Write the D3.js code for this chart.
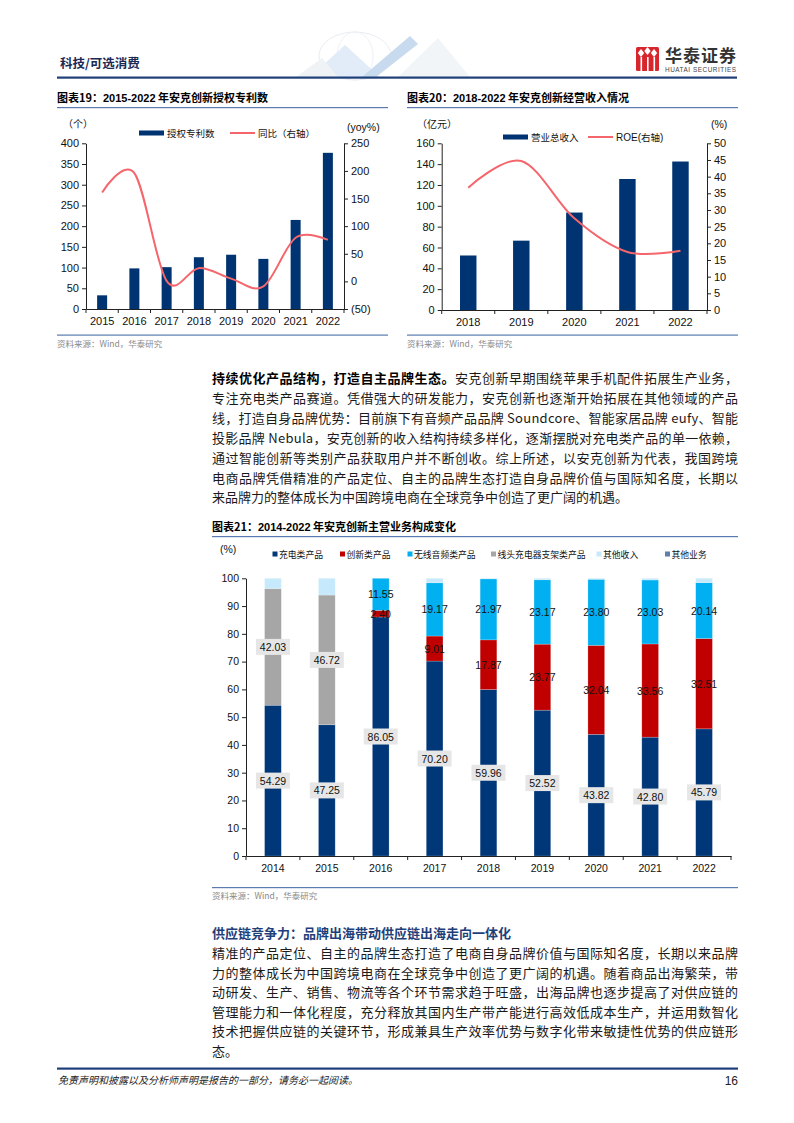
<!DOCTYPE html>
<html><head><meta charset="utf-8">
<script src="https://cdn.jsdelivr.net/npm/d3@7"></script>
<style>
body{margin:0;background:#fff;}
svg{display:block;}
text{font-family:"Liberation Sans",Arial,"Noto Sans CJK SC",sans-serif;}
.cn{font-family:"Noto Sans CJK SC",sans-serif;}
</style></head><body>
<svg id="page" width="794" height="1123"></svg>
<script>
// ---------- data ----------
const patentYears = ["2015","2016","2017","2018","2019","2020","2021","2022"];
const patentCounts = [33, 98, 101, 125, 131, 121, 215, 377];
const patentYoY = [161, 196, 1, 24, 5, -9, 79, 75];
const patentLeftTicks = [0,50,100,150,200,250,300,350,400];
const patentRightTicks = [-50,0,50,100,150,200,250];

const revYears = ["2018","2019","2020","2021","2022"];
const revenue = [52.32, 66.55, 93.53, 125.74, 142.51];
const roe = [36.7, 44.7, 27.5, 17.4, 17.8];
const revLeftTicks = [0,20,40,60,80,100,120,140,160];
const revRightTicks = [0,5,10,15,20,25,30,35,40,45,50];

const mixYears = ["2014","2015","2016","2017","2018","2019","2020","2021","2022"];
const mixSeriesNames = ["充电类产品","创新类产品","无线音频类产品","线头充电器支架类产品","其他收入","其他业务"];
const charging = [54.29, 47.25, 86.05, 70.20, 59.96, 52.52, 43.82, 42.80, 45.79];
const innovation = [0, 0, 2.40, 9.01, 17.87, 23.77, 32.04, 33.56, 32.51];
const audio = [0, 0, 11.55, 19.17, 21.97, 23.17, 23.80, 23.03, 20.14];
const cable = [42.03, 46.72, 0, 0, 0, 0, 0, 0, 0];
const otherIncome = [3.68, 6.03, 0, 1.62, 0.20, 0.54, 0.34, 0.61, 1.56];
const otherBusiness = [0, 0, 0, 0, 0, 0, 0, 0, 0];
const mixTicks = [0,10,20,30,40,50,60,70,80,90,100];

const para1 = [
  {bold:"持续优化产品结构，打造自主品牌生态。", text:"安克创新早期围绕苹果手机配件拓展生产业务，"},
  {text:"专注充电类产品赛道。凭借强大的研发能力，安克创新也逐渐开始拓展在其他领域的产品"},
  {text:"线，打造自身品牌优势：目前旗下有音频产品品牌 Soundcore、智能家居品牌 eufy、智能"},
  {text:"投影品牌 Nebula，安克创新的收入结构持续多样化，逐渐摆脱对充电类产品的单一依赖，"},
  {text:"通过智能创新等类别产品获取用户并不断创收。综上所述，以安克创新为代表，我国跨境"},
  {text:"电商品牌凭借精准的产品定位、自主的品牌生态打造自身品牌价值与国际知名度，长期以"},
  {text:"来品牌力的整体成长为中国跨境电商在全球竞争中创造了更广阔的机遇。", last:true}
];
const para2Title = "供应链竞争力：品牌出海带动供应链出海走向一体化";
const para2 = [
  "精准的产品定位、自主的品牌生态打造了电商自身品牌价值与国际知名度，长期以来品牌",
  "力的整体成长为中国跨境电商在全球竞争中创造了更广阔的机遇。随着商品出海繁荣，带",
  "动研发、生产、销售、物流等各个环节需求趋于旺盛，出海品牌也逐步提高了对供应链的",
  "管理能力和一体化程度，充分释放其国内生产带产能进行高效低成本生产，并运用数智化",
  "技术把握供应链的关键环节，形成兼具生产效率优势与数字化带来敏捷性优势的供应链形",
  "态。"
];

// ---------- page ----------
const svg = d3.select("#page");
const NAVY = "#1f3f7a";
const BAR = "#003371";
const LINE = "#f4666c";

// header decorative faint graphic
const deco = svg.append("g").attr("opacity",0.3);
deco.append("ellipse").attr("cx",355).attr("cy",56).attr("rx",36).attr("ry",24).attr("fill","none").attr("stroke","#b8c4d6").attr("stroke-width",1);
deco.append("ellipse").attr("cx",355).attr("cy",56).attr("rx",18).attr("ry",24).attr("fill","none").attr("stroke","#c8d2e0").attr("stroke-width",1);
deco.append("path").attr("d","M310,77 L345,45 L380,77 Z").attr("fill","#9ec3ea");
deco.append("path").attr("d","M362,77 L410,36 L418,44 L376,77 Z").attr("fill","#4a86c8");
deco.append("path").attr("d","M398,77 L438,38 L470,77 Z").attr("fill","#d7dfea");
deco.append("path").attr("d","M296,77 L322,58 L338,77 Z").attr("fill","#d0d8e4");

svg.append("text").attr("class","cn").attr("x",60).attr("y",68).attr("font-size",12.5).attr("font-weight","bold").attr("fill","#1b2a55").text("科技/可选消费");
svg.append("rect").attr("x",57).attr("y",76.5).attr("width",680).attr("height",2.2).attr("fill",NAVY);

// logo
const logo = svg.append("g");
logo.append("rect").attr("x",636).attr("y",47).attr("width",23).attr("height",24).attr("rx",1.5).attr("fill","#d7262c");
[[641,52],[647.5,50],[654,52]].forEach(([cx,cy])=>{
  logo.append("path").attr("d",`M${cx},${cy-3} L${cx+3.2},${cy+1} L${cx},${cy+5} L${cx-3.2},${cy+1} Z`).attr("fill","#fff");
});
[640.5,647,653.5].forEach(xx=>logo.append("rect").attr("x",xx).attr("y",57).attr("width",1.6).attr("height",14).attr("fill","#fff"));
logo.append("text").attr("class","cn").attr("x",665).attr("y",62).attr("font-size",17).attr("font-weight","bold").attr("fill","#333").attr("textLength",71).text("华泰证券");
logo.append("text").attr("x",665).attr("y",72).attr("font-size",6.4).attr("fill","#444").attr("textLength",71).text("HUATAI SECURITIES");

// ---------- helpers ----------
function chartTitle(x, y, w, label, rest){
  const t = svg.append("text").attr("class","cn").attr("x",x).attr("y",y).attr("font-size",11).attr("font-weight","bold").attr("fill","#000");
  t.append("tspan").text(label);
  t.append("tspan").attr("style","font-family:'Liberation Sans',Arial").text(rest.num);
  t.append("tspan").text(rest.cn);
  svg.append("rect").attr("x",x).attr("y",y+5).attr("width",w).attr("height",1.2).attr("fill","#5b7bb0");
}
function source(x, lineY, w){
  svg.append("rect").attr("x",x).attr("y",lineY).attr("width",w).attr("height",1.2).attr("fill","#5b7bb0");
  svg.append("text").attr("class","cn").attr("x",x).attr("y",lineY+12).attr("font-size",8.5).attr("fill","#8a8a8a").text("资料来源：Wind，华泰研究");
}
function styleAxis(g){
  g.selectAll("path.domain").attr("stroke","#222").attr("stroke-width",1);
  g.selectAll(".tick line").attr("stroke","#222");
  g.selectAll(".tick text").attr("fill","#111").attr("font-size",11).attr("font-family","'Liberation Sans',Arial");
}
function bandTicks(g, x0, step, n, y){
  g.selectAll("line.bt").data(d3.range(n+1)).join("line").attr("class","bt")
   .attr("x1",i=>x0+i*step).attr("x2",i=>x0+i*step).attr("y1",y).attr("y2",y+4).attr("stroke","#222");
}

// ---------- Chart 19 ----------
chartTitle(57, 102, 331, "图表19：", {num:"2015-2022", cn:" 年安克创新授权专利数"});
{
  const L = 86, R = 344, T = 143.3, B = 309;
  const x = d3.scaleBand().domain(patentYears).range([L,R]).paddingInner(0.69).paddingOuter(0.345);
  const yL = d3.scaleLinear().domain([0,400]).range([B,T]);
  const yR = d3.scaleLinear().domain([-50,250]).range([B,T]);
  const g = svg.append("g");
  g.selectAll("rect.bar").data(patentCounts).join("rect").attr("class","bar")
    .attr("x",(d,i)=>x(patentYears[i])).attr("width",x.bandwidth())
    .attr("y",d=>yL(d)).attr("height",d=>B-yL(d)).attr("fill",BAR);
  const line = d3.line().x((d,i)=>x(patentYears[i])+x.bandwidth()/2).y(d=>yR(d)).curve(d3.curveCardinal.tension(0));
  g.append("path").datum(patentYoY).attr("d",line).attr("fill","none").attr("stroke",LINE).attr("stroke-width",2);
  const ax = g.append("g").attr("transform",`translate(${L},0)`).call(d3.axisLeft(yL).tickValues(patentLeftTicks).tickSize(4).tickSizeOuter(0));
  styleAxis(ax);
  const ar = g.append("g").attr("transform",`translate(${R},0)`).call(d3.axisRight(yR).tickValues(patentRightTicks).tickSize(4).tickSizeOuter(0).tickFormat(d=>d<0?`(${-d})`:d));
  styleAxis(ar);
  const axb = g.append("g").attr("transform",`translate(0,${B})`).call(d3.axisBottom(x).tickSize(0).tickSizeOuter(0).tickPadding(8));
  styleAxis(axb);
  bandTicks(g, L, x.step(), patentYears.length, B);
  g.append("text").attr("class","cn").attr("x",63).attr("y",128).attr("font-size",10).attr("fill","#111").text("（个）");
  g.append("text").attr("x",347).attr("y",131).attr("font-size",10.5).attr("fill","#111").text("(yoy%)");
  g.append("rect").attr("x",139).attr("y",130.5).attr("width",25).attr("height",5).attr("fill",BAR);
  g.append("text").attr("class","cn").attr("x",167).attr("y",137).attr("font-size",9.5).attr("fill","#111").text("授权专利数");
  g.append("line").attr("x1",230).attr("x2",255).attr("y1",133).attr("y2",133).attr("stroke",LINE).attr("stroke-width",2);
  g.append("text").attr("class","cn").attr("x",258).attr("y",137).attr("font-size",9.5).attr("fill","#111").text("同比（右轴）");
}
source(57, 334.5, 331);

// ---------- Chart 20 ----------
chartTitle(407, 102, 331, "图表20：", {num:"2018-2022", cn:" 年安克创新经营收入情况"});
{
  const L = 441.7, R = 707, T = 143.3, B = 310;
  const x = d3.scaleBand().domain(revYears).range([L,R]).paddingInner(0.69).paddingOuter(0.345);
  const yL = d3.scaleLinear().domain([0,160]).range([B,T]);
  const yR = d3.scaleLinear().domain([0,50]).range([B,T]);
  const g = svg.append("g");
  g.selectAll("rect.bar").data(revenue).join("rect").attr("class","bar")
    .attr("x",(d,i)=>x(revYears[i])).attr("width",x.bandwidth())
    .attr("y",d=>yL(d)).attr("height",d=>B-yL(d)).attr("fill",BAR);
  const line = d3.line().x((d,i)=>x(revYears[i])+x.bandwidth()/2).y(d=>yR(d)).curve(d3.curveCardinal.tension(0));
  g.append("path").datum(roe).attr("d",line).attr("fill","none").attr("stroke",LINE).attr("stroke-width",2);
  const ax = g.append("g").attr("transform",`translate(${L},0)`).call(d3.axisLeft(yL).tickValues(revLeftTicks).tickSize(4).tickSizeOuter(0));
  styleAxis(ax);
  const ar = g.append("g").attr("transform",`translate(${R},0)`).call(d3.axisRight(yR).tickValues(revRightTicks).tickSize(4).tickSizeOuter(0));
  styleAxis(ar);
  const axb = g.append("g").attr("transform",`translate(0,${B})`).call(d3.axisBottom(x).tickSize(0).tickSizeOuter(0).tickPadding(8));
  styleAxis(axb);
  bandTicks(g, L, x.step(), revYears.length, B);
  g.append("text").attr("class","cn").attr("x",417).attr("y",128).attr("font-size",10).attr("fill","#111").text("（亿元）");
  g.append("text").attr("x",711).attr("y",128).attr("font-size",10.5).attr("fill","#111").text("(%)");
  g.append("rect").attr("x",503).attr("y",134.5).attr("width",25).attr("height",5).attr("fill",BAR);
  g.append("text").attr("class","cn").attr("x",531).attr("y",141).attr("font-size",9.5).attr("fill","#111").text("营业总收入");
  g.append("line").attr("x1",588).attr("x2",613).attr("y1",137).attr("y2",137).attr("stroke",LINE).attr("stroke-width",2);
  const lt = g.append("text").attr("x",616).attr("y",141).attr("font-size",10).attr("fill","#111");
  lt.append("tspan").text("ROE(");
  lt.append("tspan").attr("class","cn").attr("font-size",9.5).text("右轴");
  lt.append("tspan").text(")");
}
source(407, 334.5, 331);

// ---------- body paragraph 1 ----------
{
  const x0 = 212, W = 526, y0 = 383, lh = 19.9;
  para1.forEach((ln,i)=>{
    const t = svg.append("text").attr("class","cn").attr("x",x0).attr("y",y0+i*lh).attr("font-size",13).attr("fill","#1a1a1a");
    if(!ln.last){ t.attr("textLength",W).attr("lengthAdjust","spacing"); }
    if(ln.bold) t.append("tspan").attr("font-weight","bold").attr("fill","#000").text(ln.bold);
    t.append("tspan").text(ln.text);
  });
}

// ---------- Chart 21 ----------
chartTitle(212, 531, 526, "图表21：", {num:"2014-2022", cn:" 年安克创新主营业务构成变化"});
{
  const L = 246, R = 731, T = 578.3, B = 856;
  const x = d3.scaleBand().domain(mixYears).range([L,R]).paddingInner(0.69).paddingOuter(0.345);
  const y = d3.scaleLinear().domain([0,100]).range([B,T]);
  const seriesVals = [charging, innovation, audio, cable, otherIncome, otherBusiness];
  const colors = ["#003778","#c00000","#00b0f0","#a6a6a6","#c6e9fb","#5f80ab"];
  const rows = mixYears.map((yr,i)=>{ const o={year:yr}; mixSeriesNames.forEach((n,k)=>o[n]=seriesVals[k][i]); return o; });
  const stack = d3.stack().keys(mixSeriesNames)(rows);
  const g = svg.append("g");
  stack.forEach((s,k)=>{
    g.selectAll(null).data(s.filter(d=>d[1]-d[0]>0)).join("rect")
      .attr("x",d=>x(d.data.year)).attr("width",x.bandwidth())
      .attr("y",d=>y(d[1])).attr("height",d=>y(d[0])-y(d[1]))
      .attr("fill",colors[k]).attr("stroke","rgba(255,255,255,0.35)").attr("stroke-width",0.6);
  });
  const ax = g.append("g").attr("transform",`translate(${L},0)`).call(d3.axisLeft(y).tickValues(mixTicks).tickSize(4).tickSizeOuter(0));
  styleAxis(ax); ax.selectAll(".tick text").attr("font-size",10.5);
  const axb = g.append("g").attr("transform",`translate(0,${B})`).call(d3.axisBottom(x).tickSize(0).tickSizeOuter(0).tickPadding(9));
  styleAxis(axb); axb.selectAll(".tick text").attr("font-size",10.5);
  bandTicks(g, L, x.step(), mixYears.length, B);
  const boxed = {"充电类产品":true,"线头充电器支架类产品":true};
  ["充电类产品","创新类产品","无线音频类产品","线头充电器支架类产品"].forEach(name=>{
    const s = stack.find(q=>q.key===name);
    s.forEach(d=>{
      const v = d[1]-d[0]; if(v<=0) return;
      const cx = x(d.data.year)+x.bandwidth()/2, cy = y((d[0]+d[1])/2);
      if(boxed[name]) g.append("rect").attr("x",cx-17).attr("y",cy-8).attr("width",34).attr("height",16).attr("fill","#e6e6e6");
      g.append("text").attr("x",cx).attr("y",cy+4).attr("text-anchor","middle").attr("font-size",10.5).attr("fill","#111").text(v.toFixed(2));
    });
  });
  g.append("text").attr("x",220).attr("y",553).attr("font-size",10.5).attr("fill","#111").text("(%)");
  const legX = [272.5, 340, 407.5, 491, 596.5, 665];
  mixSeriesNames.forEach((n,k)=>{
    g.append("rect").attr("x",legX[k]).attr("y",551.5).attr("width",5).attr("height",5).attr("fill",colors[k]);
    g.append("text").attr("class","cn").attr("x",legX[k]+6.5).attr("y",557.5).attr("font-size",8.8).attr("fill","#111").text(n);
  });
}
source(212, 887, 526);

// ---------- body paragraph 2 ----------
svg.append("text").attr("class","cn").attr("x",212).attr("y",938).attr("font-size",13).attr("font-weight","bold").attr("fill",NAVY).text(para2Title);
{
  const x0 = 212, W = 526, y0 = 958, lh = 19.5;
  para2.forEach((ln,i)=>{
    const t = svg.append("text").attr("class","cn").attr("x",x0).attr("y",y0+i*lh).attr("font-size",13).attr("fill","#1a1a1a").text(ln);
    if(i<para2.length-1) t.attr("textLength",W).attr("lengthAdjust","spacing");
  });
}

// ---------- footer ----------
svg.append("rect").attr("x",57).attr("y",1067.5).attr("width",681).attr("height",2.2).attr("fill",NAVY);
svg.append("text").attr("class","cn").attr("x",58).attr("y",1084).attr("font-size",10).attr("font-style","italic").attr("fill","#222").text("免责声明和披露以及分析师声明是报告的一部分，请务必一起阅读。");
svg.append("text").attr("x",738).attr("y",1085).attr("text-anchor","end").attr("font-size",12).attr("fill","#222").text("16");
</script>
</body></html>
